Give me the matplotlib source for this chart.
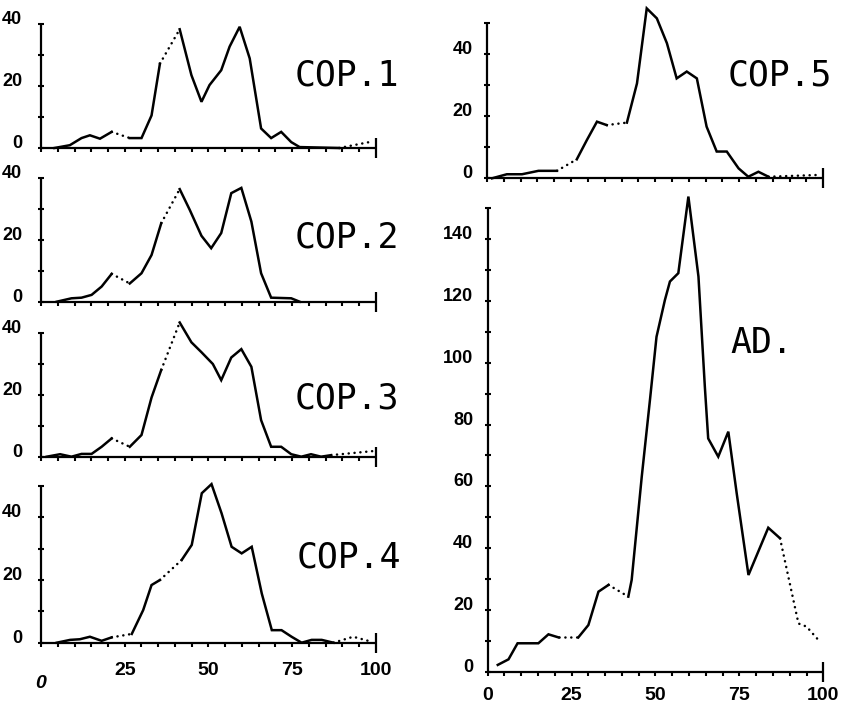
import matplotlib
matplotlib.use('Agg')
import matplotlib.pyplot as plt

W, H = 854, 717

# ---------------- data ----------------
cop1_x = [4, 8.6, 12.1, 14.6, 17.6, 21.1, 26.5, 30.0, 33.0, 35.5, 41.4, 44.9, 47.9, 50.3,
          53.8, 56.3, 59.3, 62.3, 65.7, 68.7, 71.7, 74.7, 77.2, 89, 98]
cop1_y = [0, 0.9, 3.2, 4.1, 3.0, 5.2, 3.2, 3.2, 10.5, 27.2, 38.3, 23.5, 14.9, 20.3,
          25.1, 32.7, 39.1, 28.9, 6.3, 3.2, 5.2, 1.9, 0.3, 0, 1.9]
cop1_dotted = [5, 9, 23]

cop2_x = [4.7, 9.1, 12.1, 15.1, 18.1, 21.1, 26.5, 30, 33, 35.9, 41.4, 44.4, 47.9, 50.8,
          53.8, 56.8, 59.8, 62.8, 65.7, 68.7, 74.7, 77.2]
cop2_y = [0, 1.1, 1.3, 2.2, 4.9, 9.0, 5.9, 9.2, 15.1, 25.4, 36.4, 29.7, 21.3, 17.3,
          22.2, 35.1, 36.8, 25.9, 9.2, 1.3, 1.1, 0]
cop2_dotted = [5, 9]

cop3_x = [1.7, 5.7, 9.1, 12.1, 15.1, 18.1, 21.1, 26.5, 30, 33, 35.9, 41.4, 44.9, 47.9,
          51.3, 53.8, 56.8, 59.8, 62.8, 65.7, 68.7, 71.7, 74.7, 77.7, 80.6, 83.6, 86.6, 99]
cop3_y = [0, 0.8, 0, 0.9, 0.9, 3.2, 5.9, 3.2, 7.0, 19.1, 28.0, 43.3, 36.9, 33.7,
          29.9, 24.7, 32.0, 34.7, 29.0, 11.8, 3.2, 3.2, 0.8, 0, 0.8, 0, 0.5, 1.8]
cop3_dotted = [6, 10, 26]

cop4_x = [4.7, 8.7, 11.6, 14.6, 18.1, 21.1, 27.1, 30.5, 33, 35.5, 42, 45, 48, 50.9,
          53.9, 56.9, 59.9, 62.9, 65.9, 68.9, 71.8, 74.8, 77.8, 80.8, 83.8, 87.3, 93.2, 98]
cop4_y = [0, 0.9, 1.1, 1.9, 0.6, 1.7, 2.8, 10.4, 18.4, 20.0, 26.4, 31.2, 47.7, 50.6,
          41.3, 30.6, 28.5, 30.6, 15.7, 4.0, 4.0, 1.9, 0, 0.9, 0.9, 0, 1.9, 0.5]
cop4_dotted = [5, 9, 25, 26]

cop5_x = [1.5, 5.9, 10.4, 15.3, 20.8, 26.7, 29.7, 32.7, 35.6, 41.6, 44.6, 47.5, 50.5,
          53.5, 56.4, 59.4, 62.4, 65.3, 68.3, 71.3, 74.8, 77.7, 80.7, 83.7, 99]
cop5_y = [0, 1.3, 1.3, 2.4, 2.4, 6.1, 12.3, 18.2, 17.1, 17.9, 30.5, 54.6, 51.4,
          43.4, 32.1, 34.3, 32.1, 16.6, 8.6, 8.6, 3.2, 0.5, 2.1, 0.5, 1.1]
cop5_dotted = [4, 8, 23]

ad_x = [3.0, 6.2, 8.9, 15.1, 18.1, 21.1, 27.0, 30.0, 33.0, 36.0, 41.9, 42.9, 45.9, 48.4,
        50.3, 52.8, 54.3, 56.8, 59.8, 62.8, 64.7, 65.7, 68.7, 71.7, 74.2, 77.7, 83.6,
        87.1, 92.6, 95.0, 99.0]
ad_y = [2.2, 4.0, 9.2, 9.2, 12.1, 11.1, 11.1, 15.1, 25.9, 28.1, 24.3, 29.7, 63.1, 88.5,
        108.4, 120.3, 126.3, 129.0, 153.8, 127.9, 92.3, 75.5, 69.6, 77.7, 57.7, 31.3, 46.6,
        43.2, 15.6, 14.6, 9.7]
ad_dotted = [5, 9, 27, 28, 29]

x_ticklabels = ['0', '25', '50', '75', '100']
small_ylabels = [0, 20, 40]
ad_ylabels = [0, 20, 40, 60, 80, 100, 120, 140]
panel_names = ['COP.1', 'COP.2', 'COP.3', 'COP.4', 'COP.5', 'AD.']

# ---------------- drawing ----------------
fig = plt.figure(figsize=(W / 100, H / 100), dpi=100)
fig.patch.set_facecolor('white')

TICK_FONT = dict(family='Liberation Sans', weight='bold')


def add_ax(x0, x1, ytop, ybot):
    return fig.add_axes([x0 / W, 1 - ybot / H, (x1 - x0) / W, (ybot - ytop) / H])


def draw_series(ax, x, y, dotted):
    n = len(x)
    i = 0
    while i < n - 1:
        is_dot = i in dotted
        j = i
        while j < n - 1 and ((j in dotted) == is_dot):
            j += 1
        if is_dot:
            ax.plot(x[i:j + 1], y[i:j + 1], color='black', lw=1.8,
                    ls=(0, (0.05, 2.3)), dash_capstyle='round', clip_on=False)
        else:
            ax.plot(x[i:j + 1], y[i:j + 1], color='black', lw=1.8,
                    solid_joinstyle='miter', clip_on=False)
        i = j


def style_ax(ax, ytop, ymajor, show_x, ypad, xpad):
    ax.patch.set_visible(False)
    ax.set_xlim(0, 100)
    ax.set_ylim(0, ytop)
    for s in ['top', 'right']:
        ax.spines[s].set_visible(False)
    for s in ['left', 'bottom']:
        ax.spines[s].set_linewidth(1.6)
        ax.spines[s].set_capstyle('butt')
    ax.set_xticks([0, 25, 50, 75, 100])
    ax.set_xticks(list(range(0, 101, 5)), minor=True)
    ax.set_yticks(ymajor)
    ax.set_yticks(list(range(0, ytop + 1, 10)), minor=True)
    ax.tick_params(axis='x', which='both', direction='out', length=3, width=1.5,
                   pad=xpad, labelsize=14)
    ax.tick_params(axis='y', which='both', direction='inout', length=5, width=1.5,
                   pad=ypad, labelsize=13)
    if show_x:
        ax.set_xticklabels(x_ticklabels, fontsize=14, **TICK_FONT)
    else:
        ax.tick_params(axis='x', labelbottom=False)
    ax.set_yticklabels([str(v) for v in ymajor], fontsize=13, **TICK_FONT)
    for lab in ax.get_yticklabels():
        lab.set_va('baseline')
    # long end bar at x = 100
    t = ax.xaxis.get_major_ticks()[-1]
    t.tick1line.set_marker('|')
    t.tick1line.set_markersize(14)
    t.tick1line.set_markeredgewidth(1.6)


LX0, LX1 = 41, 376
RX0, RX1 = 487, 823.3

ax1 = add_ax(LX0, LX1, 24, 148)
ax2 = add_ax(LX0, LX1, 178, 301.7)
ax3 = add_ax(LX0, LX1, 332.7, 456.7)
ax4 = add_ax(LX0, LX1, 486, 642.7)
ax5 = add_ax(RX0, RX1, 22.7, 178.3)
ax6 = add_ax(RX0 + 0.7, RX1, 208.3, 671.7)

draw_series(ax1, cop1_x, cop1_y, cop1_dotted)
draw_series(ax2, cop2_x, cop2_y, cop2_dotted)
draw_series(ax3, cop3_x, cop3_y, cop3_dotted)
draw_series(ax4, cop4_x, cop4_y, cop4_dotted)
draw_series(ax5, cop5_x, cop5_y, cop5_dotted)
draw_series(ax6, ad_x, ad_y, ad_dotted)

style_ax(ax1, 40, small_ylabels, False, 11, 11)
style_ax(ax2, 40, small_ylabels, False, 11, 11)
style_ax(ax3, 40, small_ylabels, False, 11, 11)
style_ax(ax4, 50, small_ylabels, True, 11, 11)
style_ax(ax5, 50, small_ylabels, False, 8, 8)
style_ax(ax6, 150, ad_ylabels, True, 8, 8)

# the lowered italic "0" under COP.4
t0 = ax4.xaxis.get_major_ticks()[0]
t0.set_pad(20)
t0.label1.set_style('italic')

# panel names (plotter-style monospaced lettering)
name_pos = [(295, 85), (295, 248), (295, 408), (297, 567), (728, 85), (730, 353)]
for name, (px, py) in zip(panel_names, name_pos):
    fig.text(px / W, 1 - py / H, name, family='DejaVu Sans Mono', fontsize=25,
             ha='left', va='baseline', color='black')

fig.savefig('out.png', dpi=100, facecolor='white')
